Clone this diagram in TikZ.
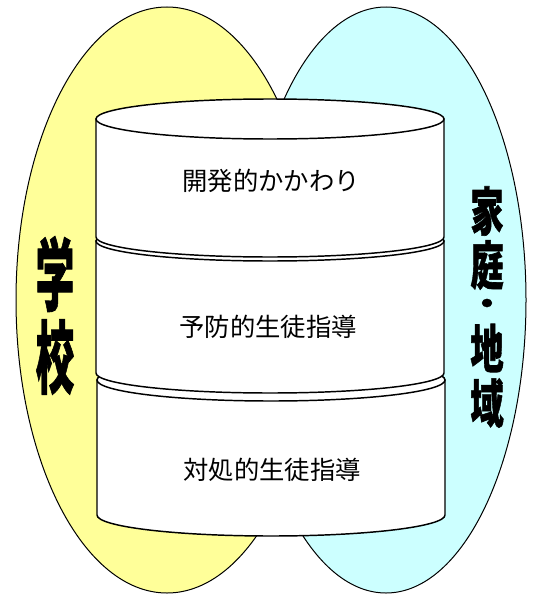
\documentclass[tikz,border=0pt]{standalone}
\usepackage{fontspec}
\usepackage{graphicx}
\newfontfamily\jpfont{Noto Sans CJK JP}
\newfontfamily\jpheavy{Noto Sans CJK JP}[FakeBold=1.2]

\tikzset{every picture/.style={line width=0.75pt}}

\begin{document}
\begin{tikzpicture}[x=0.75pt,y=0.75pt,yscale=-1,xscale=1]
\useasboundingbox (0,0) rectangle (535,596);

%Shape: Ellipse [school]
\draw  [fill={rgb, 255:red, 255; green, 255; blue, 153 }  ,fill opacity=1 ] (167,300) ellipse [x radius=151, y radius=293];
%Shape: Ellipse [home]
\draw  [fill={rgb, 255:red, 204; green, 255; blue, 255 }  ,fill opacity=1 ] (386,300) ellipse [x radius=140, y radius=293];

%Shape: Can [lower]
\draw  [fill={rgb, 255:red, 255; green, 255; blue, 255 }  ,line width=1.1] (97,380) -- (97,515) arc [start angle=180, end angle=0, x radius=174, y radius=21] -- (445,380) -- cycle ;
\draw  [fill={rgb, 255:red, 255; green, 255; blue, 255 }  ,line width=1.1] (271,380) ellipse [x radius=174, y radius=21];
%Shape: Can [middle]
\draw  [fill={rgb, 255:red, 255; green, 255; blue, 255 }  ,line width=1.1] (96,241) -- (96,373) arc [start angle=180, end angle=0, x radius=174, y radius=20] -- (444,241) -- cycle ;
\draw  [fill={rgb, 255:red, 255; green, 255; blue, 255 }  ,line width=1.1] (270,241) ellipse [x radius=174, y radius=20];
%Shape: Can [upper]
\draw  [fill={rgb, 255:red, 255; green, 255; blue, 255 }  ,line width=1.1] (96,119) -- (96,237) arc [start angle=180, end angle=0, x radius=174, y radius=20] -- (444,119) -- cycle ;
\draw  [fill={rgb, 255:red, 255; green, 255; blue, 255 }  ,line width=1.1] (270,119) ellipse [x radius=174, y radius=20];

% Text Node
\draw (271,181) node [inner sep=0.75pt]  [font=\jpfont\fontsize{19}{19}\selectfont] (kaihatsu) {開発的かかわり};
% Text Node
\draw (268,327) node [inner sep=0.75pt]  [font=\jpfont\fontsize{19}{19}\selectfont] (yobou) {予防的生徒指導};
% Text Node
\draw (272,470) node [inner sep=0.75pt]  [font=\jpfont\fontsize{19}{19}\selectfont] (taisho) {対処的生徒指導};

% Text Node
\draw (55,274) node [inner sep=0pt]  [font=\jpheavy\bfseries\fontsize{29}{29}\selectfont] (gaku) {\scalebox{1}[2.05]{学}};
% Text Node
\draw (55,357) node [inner sep=0pt]  [font=\jpheavy\bfseries\fontsize{29}{29}\selectfont] (kou) {\scalebox{1}[2.05]{校}};

% Text Node
\draw (487,211) node [inner sep=0pt]  [font=\jpheavy\bfseries\fontsize{25}{25}\selectfont] (ka) {\scalebox{1}[1.56]{家}};
% Text Node
\draw (487,265) node [inner sep=0pt]  [font=\jpheavy\bfseries\fontsize{25}{25}\selectfont] (tei) {\scalebox{1}[1.56]{庭}};
% Text Node
\draw (487,306.5) node [inner sep=0pt]  [font=\jpheavy\bfseries\fontsize{22}{22}\selectfont] (ten) {\scalebox{1.2}[1]{・}};
% Text Node
\draw (487,348) node [inner sep=0pt]  [font=\jpheavy\bfseries\fontsize{25}{25}\selectfont] (chi) {\scalebox{1}[1.56]{地}};
% Text Node
\draw (487,403) node [inner sep=0pt]  [font=\jpheavy\bfseries\fontsize{25}{25}\selectfont] (iki) {\scalebox{1}[1.56]{域}};

\end{tikzpicture}
\end{document}
